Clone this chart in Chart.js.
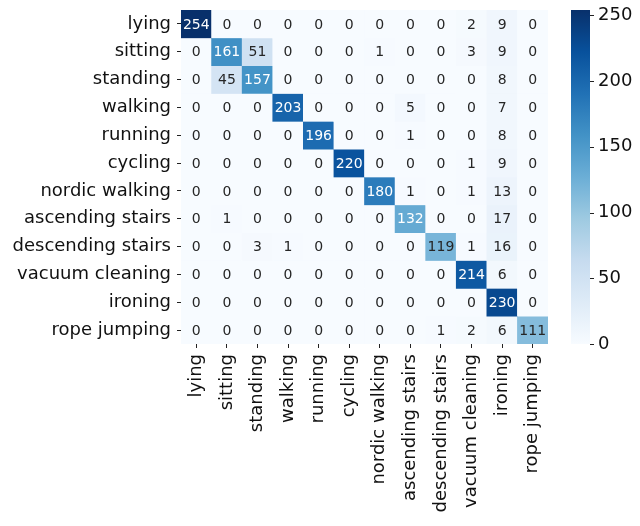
<!DOCTYPE html>
<html>
<head>
<meta charset="utf-8">
<script src="https://cdn.jsdelivr.net/npm/chart.js@4.4.0/dist/chart.umd.min.js"></script>
<style>
  html, body { margin: 0; padding: 0; background: #fff; }
  #wrap { position: relative; width: 640px; height: 526px; }
</style>
</head>
<body>
<div id="wrap"><canvas id="cm-chart"></canvas></div>
<script>
// activity classes (true label = rows, predicted = columns)
const classes = [
  "lying", "sitting", "standing", "walking", "running", "cycling",
  "nordic walking", "ascending stairs", "descending stairs",
  "vacuum cleaning", "ironing", "rope jumping"
];

// confusion matrix counts, one array per true class
const lying            = [254, 0, 0, 0, 0, 0, 0, 0, 0, 2, 9, 0];
const sitting          = [0, 161, 51, 0, 0, 0, 1, 0, 0, 3, 9, 0];
const standing         = [0, 45, 157, 0, 0, 0, 0, 0, 0, 0, 8, 0];
const walking          = [0, 0, 0, 203, 0, 0, 0, 5, 0, 0, 7, 0];
const running          = [0, 0, 0, 0, 196, 0, 0, 1, 0, 0, 8, 0];
const cycling          = [0, 0, 0, 0, 0, 220, 0, 0, 0, 1, 9, 0];
const nordicWalking    = [0, 0, 0, 0, 0, 0, 180, 1, 0, 1, 13, 0];
const ascendingStairs  = [0, 1, 0, 0, 0, 0, 0, 132, 0, 0, 17, 0];
const descendingStairs = [0, 0, 3, 1, 0, 0, 0, 0, 119, 1, 16, 0];
const vacuumCleaning   = [0, 0, 0, 0, 0, 0, 0, 0, 0, 214, 6, 0];
const ironing          = [0, 0, 0, 0, 0, 0, 0, 0, 0, 0, 230, 0];
const ropeJumping      = [0, 0, 0, 0, 0, 0, 0, 0, 1, 2, 6, 111];

const matrix = [
  lying, sitting, standing, walking, running, cycling,
  nordicWalking, ascendingStairs, descendingStairs,
  vacuumCleaning, ironing, ropeJumping
];

const colorbarTicks = [0, 50, 100, 150, 200, 250];

// matplotlib "Blues"
const blues = [
  [247, 251, 255], [222, 235, 247], [198, 219, 239], [158, 202, 225],
  [107, 174, 214], [66, 146, 198], [33, 113, 181], [8, 81, 156], [8, 48, 107]
];

const vmin = Math.min(...matrix.flat());
const vmax = Math.max(...matrix.flat());

function bluesRGB(t) {
  t = Math.max(0, Math.min(1, t));
  const p = t * (blues.length - 1);
  const i = Math.min(Math.floor(p), blues.length - 2);
  const f = p - i;
  return blues[i].map((v, k) => Math.round(v + (blues[i + 1][k] - v) * f));
}

function cellColor(v) {
  const c = bluesRGB((v - vmin) / (vmax - vmin));
  return "rgb(" + c.join(",") + ")";
}

function textColor(v) {
  const c = bluesRGB((v - vmin) / (vmax - vmin)).map(x => {
    x = x / 255;
    return x <= 0.03928 ? x / 12.92 : Math.pow((x + 0.055) / 1.055, 2.4);
  });
  const lum = 0.2126 * c[0] + 0.7152 * c[1] + 0.0722 * c[2];
  return lum > 0.408 ? "#262626" : "#ffffff";
}

const FONT = "'DejaVu Sans', sans-serif";

// axes would otherwise reserve room for half a label + padding above the plot
function noEdgePadding(s) {
  s.paddingTop = 0; s.paddingBottom = 0;
  s.paddingLeft = 0; s.paddingRight = 0;
}

// cell values + colorbar
const cmPlugin = {
  id: "cmPlugin",
  afterDatasetsDraw(chart) {
    const ctx = chart.ctx;
    const xs = chart.scales.x, ys = chart.scales.y;
    ctx.save();
    ctx.font = "14px " + FONT;
    ctx.textAlign = "center";
    ctx.textBaseline = "middle";
    matrix.forEach((row, r) => {
      row.forEach((v, c) => {
        ctx.fillStyle = textColor(v);
        ctx.fillText(String(v), xs.getPixelForValue(c), ys.getPixelForValue(r + 0.5) + 1);
      });
    });
    ctx.restore();
  },
  afterDraw(chart) {
    const ctx = chart.ctx;
    const cb = chart.scales.cb;
    const x0 = cb.left + 23, w = 19;
    const yTop = cb.getPixelForValue(vmax), yBot = cb.getPixelForValue(vmin);
    ctx.save();
    const grad = ctx.createLinearGradient(0, yBot, 0, yTop);
    blues.forEach((c, i) => grad.addColorStop(i / (blues.length - 1), "rgb(" + c.join(",") + ")"));
    ctx.fillStyle = grad;
    ctx.fillRect(x0, yTop, w, yBot - yTop);
    ctx.strokeStyle = "#222";
    ctx.lineWidth = 1;
    colorbarTicks.forEach(t => {
      const y = Math.round(cb.getPixelForValue(t)) + 0.5;
      ctx.beginPath();
      ctx.moveTo(x0 + w, y);
      ctx.lineTo(x0 + w + 4, y);
      ctx.stroke();
    });
    ctx.restore();
  }
};

const datasets = matrix.map((row, r) => ({
  label: classes[r],
  data: row.map(() => 1),
  backgroundColor: row.map(v => cellColor(v)),
  borderWidth: 0,
  barPercentage: 1,
  categoryPercentage: 1
}));

const config = {
  type: "bar",
  data: { labels: classes, datasets: datasets },
  options: {
    responsive: true,
    maintainAspectRatio: false,
    animation: false,
    layout: { padding: { top: 10, left: 0, right: 0, bottom: 0 } },
    plugins: {
      legend: { display: false },
      tooltip: { enabled: false },
      title: { display: false }
    },
    scales: {
      x: {
        stacked: true,
        offset: true,
        border: { display: false },
        grid: { display: true, offset: false, drawOnChartArea: false, drawTicks: true, tickLength: 4, tickColor: "#222" },
        ticks: {
          autoSkip: false, maxRotation: 90, minRotation: 90, padding: 6,
          color: "#111", font: { family: FONT, size: 18 }
        },
        afterFit(s) { s.height = 182; noEdgePadding(s); }
      },
      y: {
        type: "linear",
        stacked: true,
        reverse: true,
        min: 0,
        max: classes.length,
        border: { display: false },
        grid: { display: true, drawOnChartArea: false, drawTicks: true, tickLength: 4, tickColor: "#222" },
        afterBuildTicks(s) { s.ticks = classes.map((_, i) => ({ value: i + 0.5 })); },
        ticks: {
          autoSkip: false, padding: 6, color: "#111",
          font: { family: FONT, size: 18 },
          callback: (v, i) => classes[i]
        },
        afterFit(s) { s.width = 181; noEdgePadding(s); }
      },
      cb: {
        type: "linear",
        position: "right",
        display: true,
        min: vmin,
        max: vmax,
        border: { display: false },
        grid: { display: false, drawTicks: false },
        afterBuildTicks(s) { s.ticks = colorbarTicks.map(v => ({ value: v })); },
        ticks: { padding: 50, color: "#111", font: { family: FONT, size: 18 } },
        afterFit(s) { s.width = 92; noEdgePadding(s); }
      }
    }
  },
  plugins: [cmPlugin]
};

let ctx = document.getElementById("cm-chart").getContext("2d");
window.cmChart = new Chart(ctx, config);
</script>
</body>
</html>
